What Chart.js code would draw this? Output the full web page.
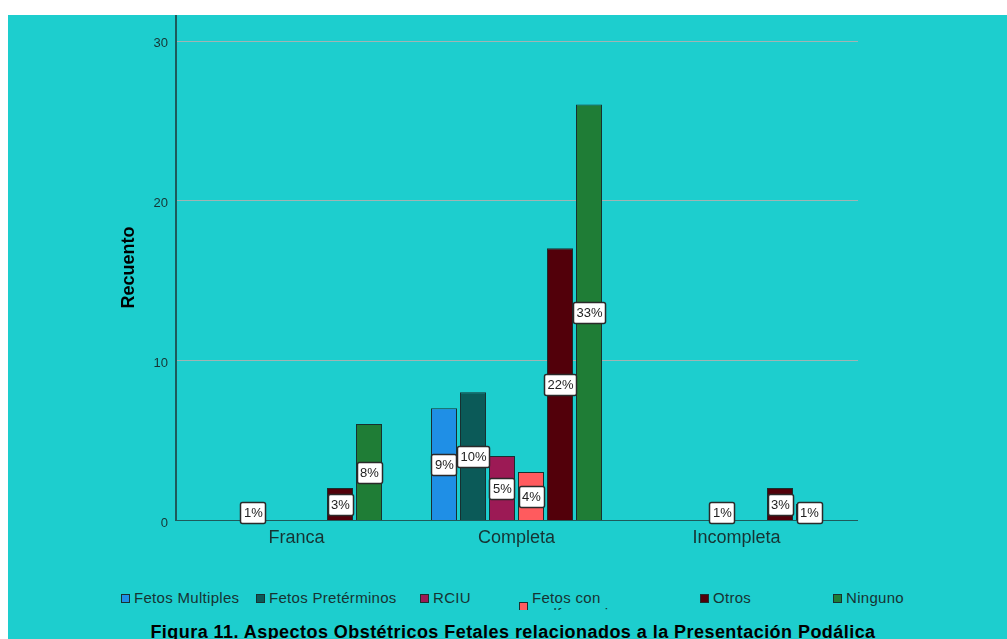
<!DOCTYPE html>
<html>
<head>
<meta charset="utf-8">
<title>Figura 11</title>
<script src="https://cdn.jsdelivr.net/npm/chart.js@4.4.1/dist/chart.umd.min.js"></script>
<style>
  html, body { margin: 0; padding: 0; background: #fff; overflow: hidden; width: 1007px; height: 639px; }
  #panel {
    position: absolute; left: 8px; top: 15px; width: 999px; height: 624px;
    background: #1dcece; overflow: hidden;
    font-family: 'Liberation Sans', Arial, sans-serif;
  }
  #chartBox { position: absolute; left: 0; top: 0; width: 999px; height: 560px; }
  .leg { position: absolute; top: 575px; height: 20px; overflow: hidden; font-size: 15px; line-height: 16px; letter-spacing: 0.3px; color: #173333; }
  .leg .row { display: flex; align-items: center; }
  .leg .sw { width: 7px; height: 7px; border: 1px solid #1b3030; margin-right: 4px; flex: none; }
  .leg .txt { white-space: nowrap; }
  .leg.wrap .txt { white-space: normal; width: 80px; }
  #title {
    position: absolute; top: 607px; left: 505px; transform: translateX(-50%);
    font-size: 18px; line-height: 20px; font-weight: bold; letter-spacing: 0.45px; color: #000; white-space: nowrap;
  }
</style>
</head>
<body>
<div id="panel">
  <div id="chartBox"><canvas id="chart" width="999" height="560"></canvas></div>
  <div id="legend"></div>
  <div id="title">Figura 11. Aspectos Obstétricos Fetales relacionados a la Presentación Podálica</div>
</div>
<script>
// ─── datos ──────────────────────────────────────────
const categories = ['Franca', 'Completa', 'Incompleta'];
const seriesNames = ['Fetos Multiples', 'Fetos Pretérminos', 'RCIU', 'Fetos con malformaciones', 'Otros', 'Ninguno'];
const fetosMultiples = [0, 7, 0];
const fetosPreterminos = [1, 8, 0];
const rciu = [0, 4, 1];
const fetosMalformaciones = [0, 3, 0];
const otros = [2, 17, 2];
const ninguno = [6, 26, 1];
const yTicks = [0, 10, 20, 30];

// ─── estilos ────────────────────────────────────────
const colors = ['#1f8fe6', '#0b5a58', '#9c1a55', '#ff5b5e', '#52000a', '#1f7d36'];
const legendX = [113, 248, 412, 511, 692, 825];
const gridCol = '#a0b4b4';
const axisCol = '#1e5a5b';
const textCol = '#173333';
const gapLeft = 10.5, gapRight = 11.5;

const seriesValues = [fetosMultiples, fetosPreterminos, rciu, fetosMalformaciones, otros, ninguno];
const total = seriesValues.flat().reduce((a, b) => a + b, 0);

// ─── leyenda ────────────────────────────────────────
const legend = document.getElementById('legend');
seriesNames.forEach((name, i) => {
  const item = document.createElement('div');
  item.className = 'leg' + (i === 3 ? ' wrap' : '');
  item.style.left = legendX[i] + 'px';
  item.innerHTML = `<div class="row"><span class="sw" style="background:${colors[i]}"></span><span class="txt">${name}</span></div>`;
  legend.appendChild(item);
});

// ─── plugins ────────────────────────────────────────
const frame = {
  id: 'frame',
  beforeDatasetsDraw(chart) {
    const { ctx, chartArea, scales: { y } } = chart;
    const x0 = Math.round(chartArea.left - gapLeft), x1 = Math.round(chartArea.right + gapRight);
    ctx.save();
    ctx.fillStyle = gridCol;
    y.ticks.forEach(t => {
      if (t.value === 0) return;
      const py = Math.round(y.getPixelForValue(t.value));
      ctx.fillRect(x0, py, x1 - x0, 1);
    });
    ctx.fillStyle = axisCol;
    const by = Math.round(y.getPixelForValue(0));
    ctx.fillRect(x0 - 1, chartArea.top, 2, by - chartArea.top + 1);
    ctx.fillRect(x0 - 1, by, x1 - x0 + 1, 1);
    ctx.restore();
  }
};

const pctLabels = {
  id: 'pctLabels',
  afterDatasetsDraw(chart) {
    const ctx = chart.ctx;
    ctx.save();
    ctx.font = '13px "Liberation Sans", Arial, sans-serif';
    ctx.textAlign = 'center';
    ctx.textBaseline = 'middle';
    chart.data.datasets.forEach((ds, i) => {
      chart.getDatasetMeta(i).data.forEach((bar, j) => {
        const v = ds.data[j];
        if (!v) return;
        const txt = Math.round(v / total * 100) + '%';
        const w = Math.round(ctx.measureText(txt).width) + 6, h = 21;
        const cx = bar.x, cy = (bar.y + bar.base) / 2;
        const x = Math.round(cx - w / 2) + 0.5, yy = Math.round(cy - h / 2) + 0.5;
        ctx.fillStyle = '#fff';
        ctx.strokeStyle = '#2a2a2a';
        ctx.lineWidth = 1.5;
        ctx.beginPath();
        ctx.roundRect(x, yy, w, h, 2);
        ctx.fill(); ctx.stroke();
        ctx.fillStyle = '#222';
        ctx.fillText(txt, cx + 0.5, cy + 1);
      });
    });
    ctx.restore();
  }
};

// ─── gráfico ────────────────────────────────────────
new Chart(document.getElementById('chart'), {
  type: 'bar',
  data: {
    labels: categories,
    datasets: seriesNames.map((name, i) => ({
      label: name,
      data: seriesValues[i],
      backgroundColor: colors[i],
      borderColor: '#183030',
      borderWidth: 1,
      categoryPercentage: 0.791,
      barPercentage: 0.897,
    }))
  },
  options: {
    responsive: false,
    animation: false,
    layout: { padding: { left: 106, right: 160.5, top: 0, bottom: 0 } },
    scales: {
      x: {
        grid: { display: false, drawTicks: false },
        border: { display: false },
        ticks: { color: textCol, padding: 7, font: { size: 18, family: "'Liberation Sans', Arial, sans-serif" } },
        afterFit: s => { s.height = 55; s.paddingLeft = 0; s.paddingRight = 0; }
      },
      y: {
        min: 0, max: 31.6,
        grid: { display: false, drawTicks: false },
        border: { display: false },
        ticks: { stepSize: 10, padding: 18.5, labelOffset: 3, color: textCol, font: { size: 13, family: "'Liberation Sans', Arial, sans-serif" } },
        afterBuildTicks: s => { s.ticks = yTicks.map(v => ({ value: v })); },
        afterFit: s => { s.width = 72.5; s.paddingTop = 0; s.paddingBottom = 0; },
        title: {
          display: true, text: 'Recuento', color: '#000',
          font: { size: 18, weight: 'bold', family: "'Liberation Sans', Arial, sans-serif" }
        }
      }
    },
    plugins: {
      legend: { display: false },
      tooltip: { enabled: false }
    }
  },
  plugins: [frame, pctLabels]
});
</script>
</body>
</html>
